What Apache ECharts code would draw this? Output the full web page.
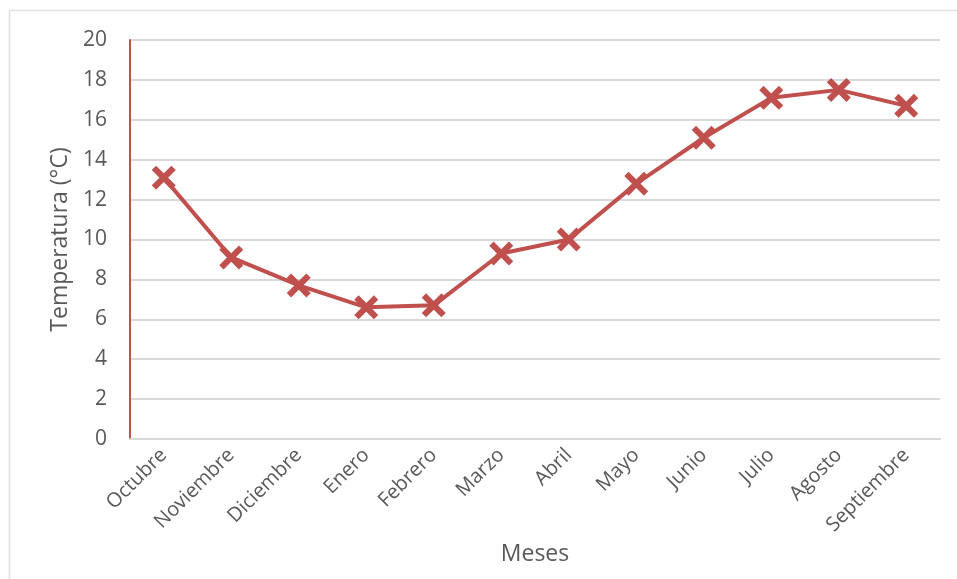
<!DOCTYPE html>
<html>
<head>
<meta charset="utf-8">
<script src="https://cdn.jsdelivr.net/npm/echarts@6/dist/echarts.min.js"></script>
<style>
  html, body { margin: 0; padding: 0; background: #fff; }
  #chart { width: 957px; height: 579px; }
</style>
</head>
<body>
<div id="chart"></div>
<script>
const meses = ['Octubre', 'Noviembre', 'Diciembre', 'Enero', 'Febrero', 'Marzo',
  'Abril', 'Mayo', 'Junio', 'Julio', 'Agosto', 'Septiembre']
const temperatura = [13.1, 9.1, 7.7, 6.6, 6.7, 9.3, 10.0, 12.8, 15.1, 17.1, 17.5, 16.7]

const rojo = '#C0504D'
const texto = '#595959'
// X-shaped marker with thick arms
const cruz = 'path://M3.6,0 L10,6.4 L16.4,0 L20,3.6 L13.6,10 L20,16.4 L16.4,20 L10,13.6 L3.6,20 L0,16.4 L6.4,10 L0,3.6 Z'

const chart = echarts.init(document.getElementById('chart'))
chart.setOption({
  animation: false,
  textStyle: { fontFamily: 'Open Sans' },
  graphic: [{
    type: 'rect',
    shape: { x: 9.5, y: 10.5, width: 1000, height: 1000 },
    style: { fill: 'none', stroke: '#e0e0e0', lineWidth: 1.5 },
    silent: true
  }],
  grid: { left: 130, right: 17, top: 40, bottom: 140 },
  xAxis: {
    type: 'category',
    data: meses,
    boundaryGap: true,
    name: 'Meses',
    nameLocation: 'middle',
    nameGap: 101,
    nameTextStyle: { color: texto, fontSize: 23 },
    axisLine: { lineStyle: { color: '#d9d9d9', width: 2 } },
    axisTick: { show: false },
    axisLabel: { color: texto, fontSize: 20, rotate: 45, margin: 13 }
  },
  yAxis: {
    type: 'value',
    min: 0,
    max: 20,
    interval: 2,
    name: 'Temperatura (°C)',
    nameLocation: 'middle',
    nameGap: 56,
    nameTextStyle: { color: texto, fontSize: 23 },
    axisLine: { show: true, lineStyle: { color: rojo, width: 2 } },
    axisTick: { show: false },
    axisLabel: { color: texto, fontSize: 21, margin: 23 },
    splitLine: { lineStyle: { color: '#d9d9d9', width: 2 } }
  },
  series: [{
    type: 'line',
    data: temperatura,
    symbol: cruz,
    symbolSize: 24,
    showAllSymbol: true,
    itemStyle: { color: rojo },
    lineStyle: { color: rojo, width: 4 },
    z: 5
  }]
})
</script>
</body>
</html>
